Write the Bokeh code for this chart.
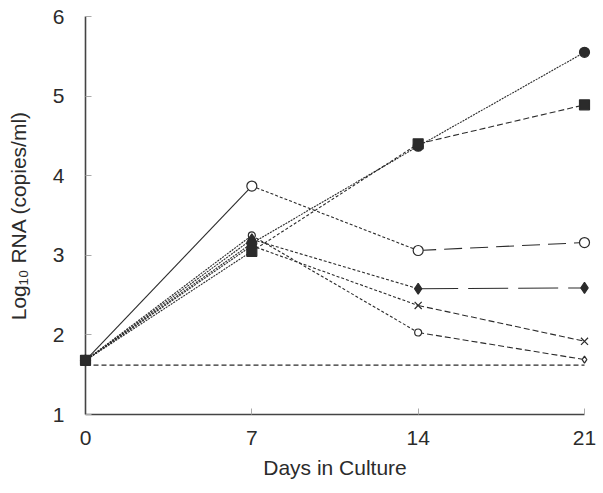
from bokeh.plotting import figure
from bokeh.models import Range1d, FixedTicker
from bokeh.embed import file_html
from bokeh.resources import INLINE

days = [0, 7, 14, 21]
filled_circle = [1.68, 3.15, 4.37, 5.55]
filled_square = [1.68, 3.05, 4.40, 4.89]
open_circle = [1.68, 3.87, 3.06, 3.16]
filled_diamond = [1.68, 3.20, 2.58, 2.59]
cross_series = [1.68, 3.12, 2.37, 1.92]
small_open = [1.68, 3.25, 2.03, 1.69]
detection_limit = [1.62, 1.62]
limit_days = [0, 21]

x_ticks = [0, 7, 14, 21]
y_ticks = [1, 2, 3, 4, 5, 6]

FONT = "Liberation Sans"
INK = "#2b2b2b"

p = figure(width=600, height=490, output_backend="svg", toolbar_location=None,
           x_range=Range1d(0, 21), y_range=Range1d(1, 6),
           min_border_left=85, min_border_top=16, min_border_right=16, min_border_bottom=76)
p.outline_line_color = None
p.xgrid.visible = False
p.ygrid.visible = False
p.background_fill_color = "white"
p.border_fill_color = "white"

for ax in (p.xaxis[0], p.yaxis[0]):
    ax.axis_line_color = "#444444"
    ax.axis_line_width = 1.6
    ax.major_tick_line_color = "#aaaaaa"
    ax.major_tick_in = 6
    ax.major_tick_out = 0
    ax.minor_tick_line_color = None
    ax.major_label_text_font = FONT
    ax.major_label_text_font_size = "21px"
    ax.major_label_text_color = INK
    ax.axis_label_text_font = FONT
    ax.axis_label_text_font_size = "21px"
    ax.axis_label_text_font_style = "normal"
    ax.axis_label_text_color = INK

p.xaxis.ticker = FixedTicker(ticks=x_ticks)
p.yaxis.ticker = FixedTicker(ticks=y_ticks)
p.xaxis.major_label_standoff = 16
p.yaxis.major_label_standoff = 21
p.xaxis.axis_label = "Days in Culture"
p.yaxis.axis_label = "Log\u2081\u2080 RNA (copies/ml)"
p.xaxis.axis_label_standoff = 8
p.yaxis.axis_label_standoff = 20

# detection limit
p.line(limit_days, detection_limit, line_color=INK, line_width=1.2, line_dash="5 3", level="overlay")

series = [
    (small_open, ["2 1", "3 2", "6 3"], ["circle", "circle", "circle", "diamond"], 7, False),
    (cross_series, ["2 1", "3 2", "6 3"], ["x"] * 4, 10, False),
    (filled_diamond, ["2 1", "3 2", "40 10"], ["diamond"] * 4, 11, True),
    (open_circle, ["solid", "3 2", "18 8"], ["circle"] * 4, 10, False),
    (filled_circle, ["2 1", "2 1", "2 1"], ["circle"] * 4, 10, True),
    (filled_square, ["2 1", "3 2", "6 3"], ["square"] * 4, 10, True),
]

for ys, dashes, markers, size, filled in series:
    for i in range(len(days) - 1):
        p.line(days[i:i + 2], ys[i:i + 2], line_color=INK, line_width=1.1,
               line_dash=dashes[i], level="overlay")
for ys, dashes, markers, size, filled in series:
    p.scatter(days, ys, marker=markers, size=size, line_color=INK, line_width=1.2,
              fill_color=INK if filled else "white", level="overlay")

open("out.html", "w").write(file_html(p, INLINE))
